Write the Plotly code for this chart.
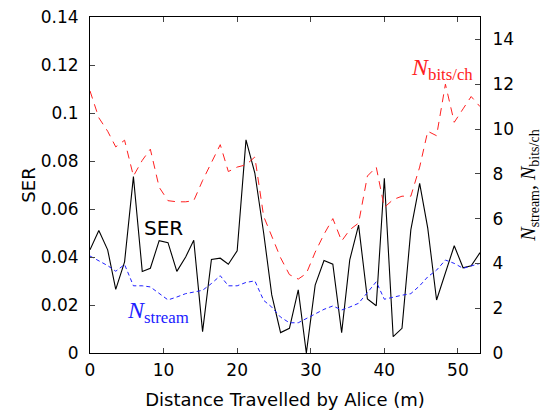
import plotly.graph_objects as go

distance = [0.0, 1.2, 2.4, 3.5, 4.7, 5.9, 7.1, 8.2, 9.4, 10.6, 11.8, 13.0, 14.1, 15.3, 16.5,
            17.7, 18.8, 20.0, 21.2, 22.4, 23.6, 24.7, 25.9, 27.1, 28.3, 29.4, 30.6, 31.8, 33.0,
            34.2, 35.3, 36.5, 37.7, 38.9, 40.0, 41.2, 42.4, 43.6, 44.8, 45.9, 47.1, 48.3, 49.5,
            50.7, 51.8, 53.0]

ser = [0.043, 0.051, 0.043, 0.0265, 0.038, 0.0735, 0.034, 0.0353, 0.0468, 0.046, 0.034, 0.040,
       0.047, 0.0089, 0.039, 0.0395, 0.037, 0.0426, 0.0888, 0.075, 0.050, 0.0242, 0.0085, 0.0103,
       0.0263, 0.0, 0.0283, 0.0385, 0.037, 0.0085, 0.0388, 0.0533, 0.0225, 0.0197, 0.0728, 0.0068,
       0.0103, 0.0513, 0.0707, 0.052, 0.0221, 0.033, 0.0447, 0.0355, 0.0363, 0.0418]

n_bits_ch = [11.7, 10.5, 9.9, 9.2, 9.5, 7.9, 8.6, 9.1, 7.4, 6.8, 6.75, 6.75, 6.8, 7.7, 8.5,
             9.3, 8.1, 8.3, 8.4, 8.75, 6.1, 5.2, 4.25, 3.5, 3.3, 3.55, 4.5, 5.3, 6.0,
             5.0, 5.5, 5.8, 7.9, 8.3, 6.5, 6.85, 7.0, 7.0, 8.3, 9.9, 9.7, 12.0, 10.3,
             10.9, 11.45, 11.0]

n_stream = [4.33, 4.1, 3.9, 3.65, 3.95, 3.0, 3.0, 2.95, 2.66, 2.37, 2.5, 2.65, 2.72, 2.8, 3.1,
            3.45, 3.0, 3.0, 3.15, 3.22, 2.35, 2.05, 1.6, 1.35, 1.35, 1.55, 1.75, 1.95, 2.1,
            1.92, 2.05, 2.22, 2.7, 3.18, 2.4, 2.5, 2.58, 2.65, 3.0, 3.4, 3.7, 4.15, 4.0,
            3.78, 3.9, 4.0]

ser_ticks = [0, 0.02, 0.04, 0.06, 0.08, 0.1, 0.12, 0.14]
ser_ticklabels = ["0", "0.02", "0.04", "0.06", "0.08", "0.1", "0.12", "0.14"]
n_ticks = [0, 2, 4, 6, 8, 10, 12, 14]

FONT = "DejaVu Sans"
SERIF = "Liberation Serif"

fig = go.Figure()
fig.add_trace(go.Scatter(x=distance, y=n_bits_ch, mode="lines", yaxis="y2",
                         line=dict(color="#ff2020", width=1, dash="8px,6px"), showlegend=False))
fig.add_trace(go.Scatter(x=distance, y=n_stream, mode="lines", yaxis="y2",
                         line=dict(color="#2020ff", width=1, dash="4px,3px"), showlegend=False))
fig.add_trace(go.Scatter(x=distance, y=ser, mode="lines", yaxis="y",
                         line=dict(color="black", width=1.1), showlegend=False))

fig.update_layout(
    width=542, height=410,
    margin=dict(l=90, r=62, t=17, b=57, autoexpand=False),
    paper_bgcolor="white", plot_bgcolor="white",
    font=dict(family=FONT, size=17, color="black"),
    xaxis=dict(range=[0, 53], tickvals=[0, 10, 20, 30, 40, 50], ticks="inside", ticklen=5,
               showline=True, linecolor="black", linewidth=1, mirror="ticks",
               showgrid=False, zeroline=False, automargin=False, ticklabelstandoff=2,
               title=dict(text="Distance Travelled by Alice (m)", font=dict(size=18), standoff=14)),
    yaxis=dict(range=[0, 0.14], tickvals=ser_ticks, ticktext=ser_ticklabels, ticks="inside",
               ticklen=5, showline=True, linecolor="black", linewidth=1,
               showgrid=False, zeroline=False, automargin=False, ticklabelstandoff=7,
               title=dict(text="SER", font=dict(size=18), standoff=0)),
    yaxis2=dict(range=[0, 15], tickvals=n_ticks, ticks="inside", ticklen=5, overlaying="y",
                side="right", showline=True, linecolor="black", linewidth=1,
                showgrid=False, zeroline=False, automargin=False, ticklabelstandoff=8,
                title=dict(text="<i>N</i><sub>stream</sub>, <i>N</i><sub>bits/ch</sub>",
                           font=dict(family=SERIF, size=20), standoff=16)),
    annotations=[
        dict(x=9.95, y=0.052, xref="x", yref="y", text="SER", showarrow=False,
             font=dict(family=FONT, size=20, color="black")),
        dict(x=9.3, y=1.83, xref="x", yref="y2", text="<i>N</i><sub>stream</sub>",
             showarrow=False, font=dict(family=SERIF, size=24, color="#2020ff")),
        dict(x=47.8, y=12.7, xref="x", yref="y2", text="<i>N</i><sub>bits/ch</sub>",
             showarrow=False, font=dict(family=SERIF, size=24, color="#ff2020")),
    ],
)

fig.write_html("out.html", config={"displayModeBar": False},
               post_script="document.body.style.margin='0';")
